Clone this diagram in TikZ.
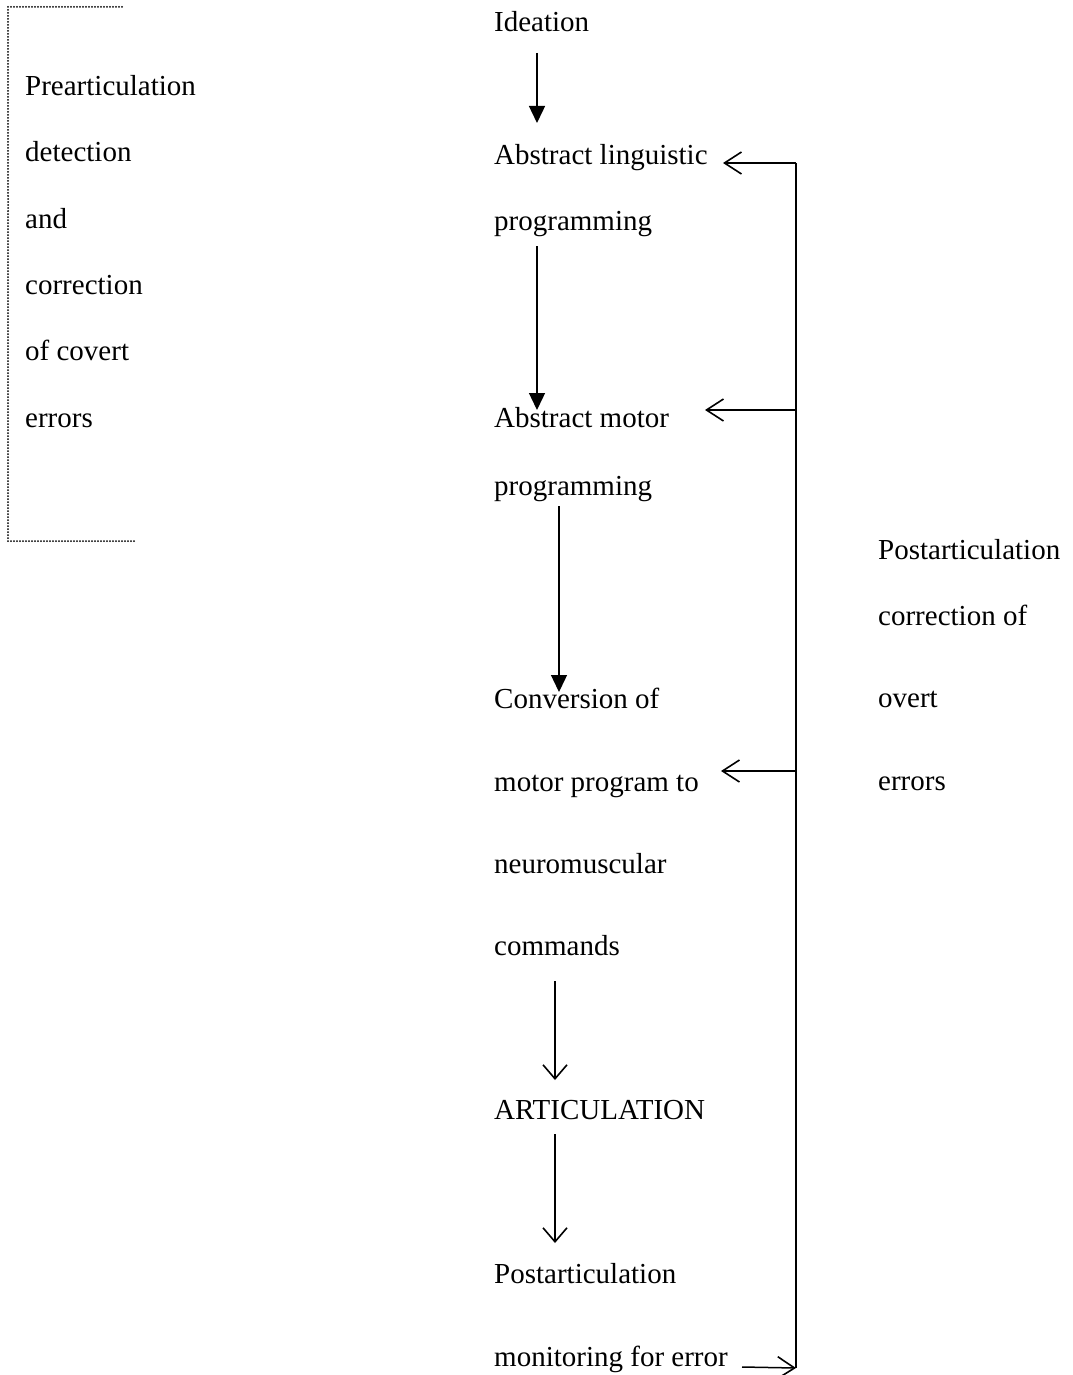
\documentclass[tikz,border=0pt]{standalone}
\usepackage{fontspec}
\setmainfont{Liberation Serif}
\usetikzlibrary{arrows.meta}
\begin{document}
\begin{tikzpicture}[x=1pt,y=-1pt,
  lbl/.style={anchor=base west,inner sep=0pt,font=\fontsize{29}{34}\selectfont},
  solidarrow/.style={line width=1.4pt,-{Triangle[length=17pt,width=16pt]}},
  openarrow/.style={line width=1.5pt,-{Straight Barb[length=14pt,width=24pt,line width=1.6pt]}},
  openarrowh/.style={line width=1.5pt,-{Straight Barb[length=17pt,width=22pt,line width=1.6pt]}},
  fbline/.style={line width=2pt},
  dotbox/.style={line width=2pt,line cap=round,dash pattern=on 0pt off 3pt}]
\useasboundingbox (0,0) rectangle (1072,1375);
% dotted bracket
\draw[dotbox] (122,7) -- (8,7) -- (8,541) -- (136,541);
% left text
\node[lbl] (l1) at (25,96) {Prearticulation};
\node[lbl] (l2) at (25,162) {detection};
\node[lbl] (l3) at (25,228) {and};
\node[lbl] (l4) at (25,294) {correction};
\node[lbl] (l5) at (25,360) {of covert};
\node[lbl] (l6) at (25,427) {errors};
% centre text
\node[lbl] (ide) at (494,32) {Ideation};
\node[lbl] (al1) at (494,165) {Abstract linguistic};
\node[lbl] (al2) at (494,230) {programming};
\node[lbl] (am1) at (494,427) {Abstract motor};
\node[lbl] (am2) at (494,495) {programming};
\node[lbl] (cv1) at (494,708) {Conversion of};
\node[lbl] (cv2) at (494,791) {motor program to};
\node[lbl] (cv3) at (494,873) {neuromuscular};
\node[lbl] (cv4) at (494,955) {commands};
\node[lbl] (art) at (494,1119) {ARTICULATION};
\node[lbl] (pm1) at (494,1283) {Postarticulation};
\node[lbl] (pm2) at (494,1366) {monitoring for error};
% right text
\node[lbl] (r1) at (878,559) {Postarticulation};
\node[lbl] (r2) at (878,625) {correction of};
\node[lbl] (r3) at (878,707) {overt};
\node[lbl] (r4) at (878,790) {errors};
% coordinates
\coordinate (a1s) at (537,53);   \coordinate (a1e) at (537,123);
\coordinate (a2s) at (537,246);  \coordinate (a2e) at (537,410);
\coordinate (a3s) at (559,506);  \coordinate (a3e) at (559,692);
\coordinate (a4s) at (555,981);  \coordinate (a4e) at (555,1080);
\coordinate (a5s) at (555,1134); \coordinate (a5e) at (555,1243);
\coordinate (vt) at (796,163);
\coordinate (v2) at (796,410);
\coordinate (v3) at (796,771);
\coordinate (vb) at (796,1368);
\coordinate (h1) at (723,163);
\coordinate (h2) at (705,410);
\coordinate (h3) at (721,771);
\coordinate (h4) at (742,1367);
% downward arrows
\draw[solidarrow] (a1s) -- (a1e);
\draw[solidarrow] (a2s) -- (a2e);
\draw[solidarrow] (a3s) -- (a3e);
\draw[openarrow] (a4s) -- (a4e);
\draw[openarrow] (a5s) -- (a5e);
% feedback loop
\draw[fbline] (vt) -- (vb);
\draw[openarrowh] (vt) -- (h1);
\draw[openarrowh] (v2) -- (h2);
\draw[openarrowh] (v3) -- (h3);
\draw[openarrowh] (h4) -- (vb);
\end{tikzpicture}
\end{document}
